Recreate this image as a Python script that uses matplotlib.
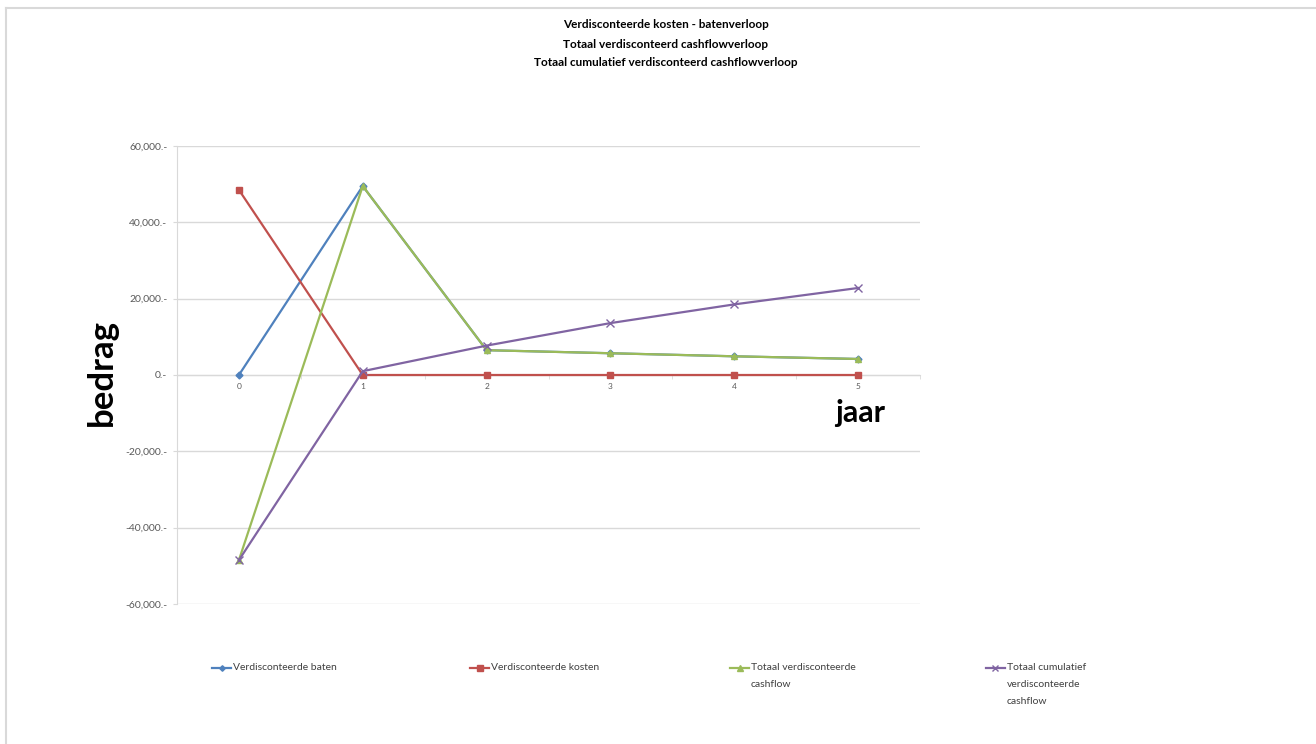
import matplotlib
matplotlib.use("Agg")
import matplotlib.pyplot as plt
from matplotlib.lines import Line2D
from matplotlib.ticker import FuncFormatter, MultipleLocator

plt.rcParams['font.family'] = ['Lato', 'DejaVu Sans']

# data
jaren = [0, 1, 2, 3, 4, 5]
baten = [0, 49500, 6500, 5700, 4900, 4200]
kosten = [48500, 0, 0, 0, 0, 0]
totaal = [-48500, 49500, 6500, 5700, 4900, 4200]
cumulatief = [-48500, 1000, 7700, 13600, 18500, 22800]

labels = [
    "Verdisconteerde baten",
    "Verdisconteerde kosten",
    "Totaal verdisconteerde\ncashflow",
    "Totaal cumulatief\nverdisconteerde\ncashflow",
]
title_lines = [
    "Verdisconteerde kosten - batenverloop",
    "Totaal verdisconteerd cashflowverloop",
    "Totaal cumulatief verdisconteerd cashflowverloop",
]

W, H = 1316, 744
fig = plt.figure(figsize=(W / 100, H / 100), dpi=100)
ax = fig.add_axes([177 / W, 1 - 604 / H, (920 - 177) / W, (604 - 146) / H])

series = [
    (baten, "#4F81BD", "D", 3.5),
    (kosten, "#C0504D", "s", 5),
    (totaal, "#9BBB59", "^", 5),
    (cumulatief, "#8064A2", "x", 6),
]
lines = []
for vals, col, mk, ms in series:
    ln, = ax.plot(jaren, vals, color=col, marker=mk, markersize=ms, lw=1.6,
                  markeredgewidth=1.0, zorder=3)
    lines.append(ln)

ax.set_xlim(-0.5, 5.5)
ax.set_ylim(-60000, 60000)
ax.yaxis.set_major_locator(MultipleLocator(20000))
ax.yaxis.set_major_formatter(FuncFormatter(lambda v, p: f"{v:,.0f}.-"))
ax.grid(axis="y", color="#D9D9D9", lw=1)
ax.set_axisbelow(True)

for s in ["top", "right"]:
    ax.spines[s].set_visible(False)
ax.spines["left"].set_color("#D9D9D9")
ax.spines["bottom"].set_position(("data", 0))
ax.spines["bottom"].set_color("#D9D9D9")

ax.set_xticks(jaren)
ax.set_xticklabels([str(j) for j in jaren])
ax.set_xticks([x + 0.5 for x in range(-1, 6)], minor=True)
ax.tick_params(axis="x", which="major", length=0, labelsize=6,
               labelcolor="#595959", pad=6)
ax.tick_params(axis="x", which="minor", length=3, color="#D9D9D9",
               direction="out")
ax.tick_params(axis="y", length=3, color="#D9D9D9", labelsize=7.5,
               labelcolor="#595959", pad=4)

fig.text(102 / W, 1 - 373 / H, "bedrag", rotation=90, ha="center",
         va="center", fontsize=25, fontweight="bold")
fig.text(860 / W, 1 - 413 / H, "jaar", ha="center", va="center",
         fontsize=22, fontweight="bold")

for i, t in enumerate(title_lines):
    fig.text(666 / W, 1 - (25 + 19 * i) / H, t, ha="center", va="center",
             fontsize=8.5, fontweight="bold")

# legend drawn by hand: handle aligned with the first text line
leg_x = [212, 470, 730, 986]
leg_y = 1 - 668 / H
for ln, lab, x in zip(lines, labels, leg_x):
    fig.add_artist(Line2D([x / W, (x + 19) / W], [leg_y, leg_y],
                          color=ln.get_color(), lw=1.6,
                          transform=fig.transFigure))
    fig.add_artist(Line2D([(x + 9.5) / W], [leg_y], color=ln.get_color(),
                          marker=ln.get_marker(),
                          markersize=ln.get_markersize() * 0.8,
                          markeredgewidth=1.0, transform=fig.transFigure))
    fig.text((x + 21) / W, leg_y + 5 / H, lab, ha="left", va="top",
             fontsize=7.5, color="#404040", linespacing=2.15)

# light frame on the top and left edge
fig.add_artist(Line2D([6 / W, 1], [1 - 8 / H, 1 - 8 / H], color="#D9D9D9",
                      lw=1.5, transform=fig.transFigure))
fig.add_artist(Line2D([6 / W, 6 / W], [0, 1 - 8 / H], color="#D9D9D9",
                      lw=1.5, transform=fig.transFigure))

fig.savefig("out.png", dpi=100)
